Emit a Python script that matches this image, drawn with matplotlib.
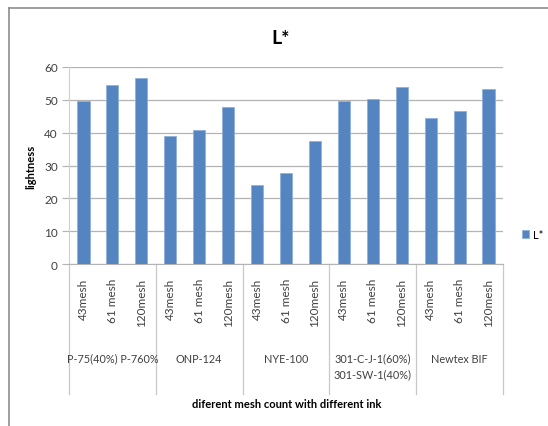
import numpy as np
import matplotlib.pyplot as plt
from matplotlib.lines import Line2D

plt.rcParams['font.family'] = ['Lato', 'DejaVu Sans']

# lightness per ink, three mesh counts each
inks = ["P-75(40%) P-760%", "ONP-124", "NYE-100", "301-C-J-1(60%)\n301-SW-1(40%)", "Newtex BIF"]
meshes = ["43mesh", "61 mesh", "120mesh"]
lightness = [49.7, 54.4, 56.6,
             38.9, 40.7, 47.7,
             24.2, 27.8, 37.5,
             49.6, 50.3, 53.9,
             44.4, 46.5, 53.2]

bar_col = '#5485c1'
grid_col = '#b3b3b3'
txt_col = '#404040'

fig = plt.figure(figsize=(5.48, 4.27), dpi=100)
ax = fig.add_axes([69/548, 1 - 265/427, 434/548, 197/427])

x = np.arange(len(lightness))
ax.bar(x, lightness, width=0.42, color=bar_col, edgecolor='#8fb0dc', linewidth=0.6,
       label='L*', zorder=3)

ax.set_xlim(-0.5, len(lightness) - 0.5)
ax.set_ylim(0, 60)
ax.set_yticks(np.arange(0, 61, 10))
ax.yaxis.grid(True, color=grid_col, linewidth=0.9, zorder=0)
for s in ['top', 'right']:
    ax.spines[s].set_visible(False)
ax.spines['left'].set_color('#cfcfcf')
ax.spines['bottom'].set_color(grid_col)
ax.tick_params(axis='y', length=5, color=grid_col, labelsize=8.5, labelcolor=txt_col, pad=3)

ax.set_xticks(x)
ax.set_xticklabels(meshes * len(inks), rotation=90, fontsize=8.5, color=txt_col, va='top')
ax.tick_params(axis='x', length=0, pad=10)

# group separators below the axis and ink names
for b in np.arange(-0.5, len(lightness), 3):
    ax.add_line(Line2D([b, b], [0, -0.66], transform=ax.get_xaxis_transform(),
                       color='#c8c8c8', linewidth=0.9, clip_on=False))
for i, name in enumerate(inks):
    ax.text(3 * i + 1, -0.45, name, transform=ax.get_xaxis_transform(),
            ha='center', va='top', fontsize=7.8, color=txt_col, linespacing=1.55)

ax.set_ylabel('lightness', fontsize=8, fontweight='bold', labelpad=6)
fig.text(0.524, 1 - 405/427, 'diferent mesh count with different ink',
         ha='center', va='center', fontsize=8, fontweight='bold')
fig.text(281/548, 1 - 38/427, 'L*', ha='center', va='center', fontsize=14, fontweight='bold')

ax.legend(loc='center left', bbox_to_anchor=(1.02, 0.15), frameon=False, fontsize=8,
          handlelength=0.7, handleheight=0.7, handletextpad=0.3)

# outer chart frame (top and left edges)
fig.add_artist(Line2D([9/548, 9/548], [0, 1 - 9/427], transform=fig.transFigure,
                      color='#8c8c8c', linewidth=1.2))
fig.add_artist(Line2D([9/548, 1], [1 - 9/427, 1 - 9/427], transform=fig.transFigure,
                      color='#8c8c8c', linewidth=1.2))

fig.savefig('out.png', dpi=100)
